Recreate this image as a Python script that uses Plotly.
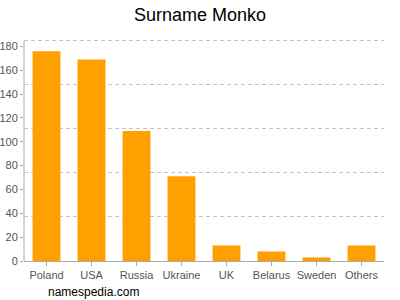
import plotly.graph_objects as go

categories = ["Poland", "USA", "Russia", "Ukraine", "UK", "Belarus", "Sweden", "Others"]
values = [176, 169, 109, 71, 13, 8, 3, 13]
y_ticks = [0, 20, 40, 60, 80, 100, 120, 140, 160, 180]
y_max = 189.6
grid_vals = [37, 74, 111, 148, 185]

font_family = "Liberation Sans, Arial, sans-serif"

fig = go.Figure()
fig.add_trace(go.Bar(
    x=categories, y=values,
    marker=dict(color="#ffa000", line=dict(width=0)),
    hoverinfo="x+y",
))
# invisible trace on secondary axis to host gridlines
fig.add_trace(go.Scatter(x=categories, y=[None]*len(categories), yaxis="y2",
                         showlegend=False, hoverinfo="skip"))

fig.update_layout(
    width=400, height=300,
    margin=dict(l=24, r=16, t=35, b=39),
    paper_bgcolor="white", plot_bgcolor="white",
    showlegend=False,
    bargap=0.38,
    font=dict(family=font_family, size=11, color="#555555"),
    title=dict(text="Surname Monko", x=0.5, xanchor="center", y=0.95, yanchor="middle",
               font=dict(family=font_family, size=18, color="#000000")),
    xaxis=dict(
        showline=True, linecolor="#aaaaaa", linewidth=1,
        ticks="outside", ticklen=4, tickcolor="#aaaaaa",
        showgrid=False, tickfont=dict(size=11, color="#555555"),
        automargin=False,
    ),
    yaxis=dict(
        range=[0, y_max], tickvals=y_ticks,
        showline=False,
        ticks="outside", ticklen=3, tickcolor="#aaaaaa",
        showgrid=False, zeroline=False,
        tickfont=dict(size=11, color="#555555"),
        automargin=False,
    ),
    yaxis2=dict(
        range=[0, y_max], overlaying="y", side="right",
        tickvals=grid_vals,
        showticklabels=False, ticks="",
        showgrid=True, gridcolor="#c4c4c4", griddash="4px,3px", gridwidth=1,
        zeroline=False, showline=False, automargin=False,
    ),
    shapes=[dict(type="line", xref="paper", yref="y", x0=0, x1=0, y0=0, y1=185,
                 line=dict(color="#aaaaaa", width=1))],
    annotations=[dict(text="namespedia.com", xref="paper", yref="paper",
                      x=22/360, y=-31/226, xanchor="left", yanchor="middle",
                      showarrow=False, font=dict(family=font_family, size=12, color="#000000"))],
)

fig.write_html("out.html")
